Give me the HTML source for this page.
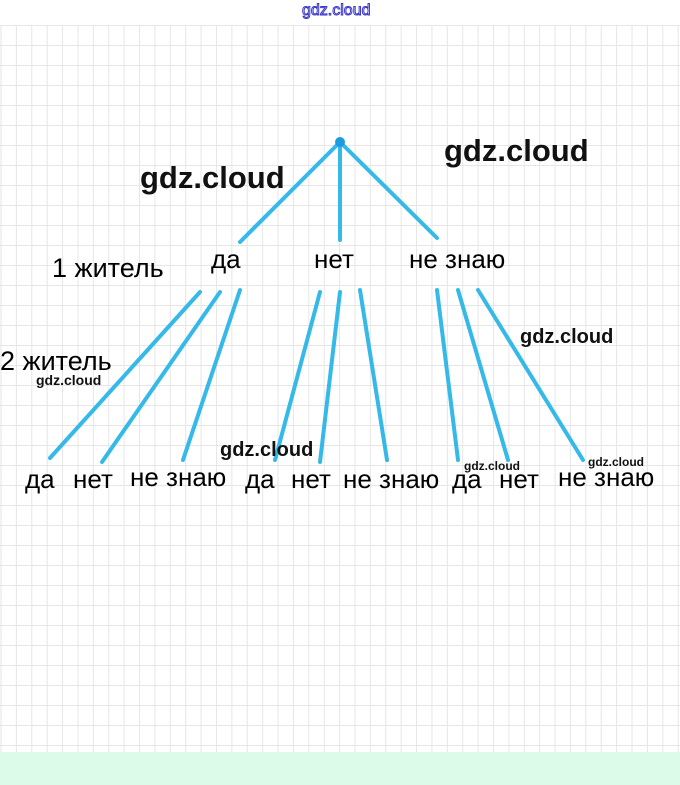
<!DOCTYPE html>
<html><head><meta charset="utf-8"><style>
html,body{margin:0;padding:0;}
body{width:680px;height:785px;position:relative;overflow:hidden;background:#fff;font-family:"Liberation Sans",sans-serif;}
.grid{position:absolute;left:0;top:25px;width:680px;height:727px;
background-image:linear-gradient(to right,#e6e6e6 1px,transparent 1px),linear-gradient(to bottom,#e6e6e6 1px,transparent 1px);
background-size:15.4px 20px;background-position:0.5px 0;}
.green{position:absolute;left:0;top:752px;width:680px;height:33px;background:#dcfbe8;}
.t{position:absolute;white-space:nowrap;color:#111;}
.w{position:absolute;white-space:nowrap;color:#000;font-size:26px;line-height:30px;}
</style></head><body>
<div class="grid"></div>
<div class="green"></div>
<div class="t" style="left:302px;top:2px;font-size:16px;color:#fff;-webkit-text-stroke:1px #3a36c8;">gdz.cloud</div>
<svg width="680" height="785" style="position:absolute;left:0;top:0">
<g stroke="#35b9e8" stroke-width="4" stroke-linecap="round">
<line x1="340" y1="142" x2="240" y2="242"/>
<line x1="340" y1="142" x2="340" y2="240"/>
<line x1="340" y1="142" x2="437" y2="238"/>
<line x1="200" y1="292" x2="50" y2="458"/>
<line x1="220" y1="292" x2="102" y2="462"/>
<line x1="240" y1="290" x2="183" y2="460"/>
<line x1="320" y1="292" x2="275" y2="460"/>
<line x1="340" y1="292" x2="320" y2="462"/>
<line x1="360" y1="290" x2="387" y2="460"/>
<line x1="437" y1="290" x2="458" y2="460"/>
<line x1="458" y1="290" x2="508" y2="460"/>
<line x1="478" y1="290" x2="583" y2="460"/>
</g>
<circle cx="340" cy="142" r="5" fill="#1e9be0"/>
</svg>
<div class="w" style="left:52px;top:253px;font-size:27px;">1 житель</div>
<div class="w" style="left:211px;top:244px;">да</div>
<div class="w" style="left:314px;top:244px;">нет</div>
<div class="w" style="left:409px;top:244px;">не знаю</div>
<div class="w" style="left:0px;top:346px;font-size:27px;">2 житель</div>
<div class="w" style="left:25px;top:464px;">да</div>
<div class="w" style="left:73px;top:464px;">нет</div>
<div class="w" style="left:130px;top:462px;">не знаю</div>
<div class="w" style="left:245px;top:464px;">да</div>
<div class="w" style="left:291px;top:464px;">нет</div>
<div class="w" style="left:343px;top:464px;">не знаю</div>
<div class="w" style="left:452px;top:464px;">да</div>
<div class="w" style="left:499px;top:464px;">нет</div>
<div class="w" style="left:558px;top:462px;">не знаю</div>
<div class="t" style="left:140px;top:160px;font-size:31px;font-weight:bold;">gdz.cloud</div>
<div class="t" style="left:444px;top:133px;font-size:31px;font-weight:bold;">gdz.cloud</div>
<div class="t" style="left:520px;top:326px;font-size:20px;font-weight:bold;">gdz.cloud</div>
<div class="t" style="left:36px;top:372px;font-size:14px;font-weight:bold;">gdz.cloud</div>
<div class="t" style="left:220px;top:439px;font-size:20px;font-weight:bold;">gdz.cloud</div>
<div class="t" style="left:464px;top:459px;font-size:12px;font-weight:bold;">gdz.cloud</div>
<div class="t" style="left:588px;top:455px;font-size:12px;font-weight:bold;">gdz.cloud</div>
</body></html>
